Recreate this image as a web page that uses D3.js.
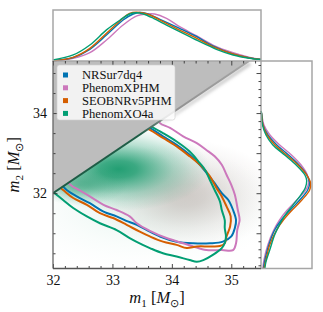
<!DOCTYPE html>
<html>
<head>
<meta charset="utf-8">
<script src="https://cdn.jsdelivr.net/npm/d3@7"></script>
<style>
  body { margin: 0; background: #fff; }
  svg { display: block; }
</style>
</head>
<body>
<svg></svg>
<script>
// corner plot of m1 / m2 for four waveform models: 90% contours + 1d marginals
const width = 323, height = 312;

const models = ["NRSur7dq4", "PhenomXPHM", "SEOBNRv5PHM", "PhenomXO4a"];
const modelColors = ["#0173b2", "#cc78bc", "#d55e00", "#029e73"];

// 90% contours, [m1, m2] (the part above m1 = m2 is hidden by the grey triangle)
const contourNRSur = [[33.58,33.66],[33.63,33.63],[33.85,33.42],[34.08,33.21],[34.30,32.96],[34.47,32.71],[34.61,32.46],[34.72,32.25],[34.84,32.00],[34.95,31.83],[35.03,31.58],[35.08,31.33],[35.06,31.13],[35.00,30.92],[34.86,30.79],[34.64,30.75],[34.36,30.75],[34.08,30.79],[33.80,30.92],[33.58,31.08],[33.41,31.21],[33.27,31.29],[33.07,31.42],[32.85,31.54],[32.62,31.75],[32.40,31.92],[32.23,32.08],[32.15,32.21]];
const contourXPHM = [[33.77,33.86],[33.80,33.75],[33.97,33.63],[34.19,33.42],[34.42,33.25],[34.58,33.08],[34.72,32.92],[34.84,32.71],[34.92,32.46],[35.00,32.21],[35.06,31.96],[35.11,31.58],[35.14,31.33],[35.10,31.08],[35.08,30.75],[35.03,30.58],[34.84,30.58],[34.58,30.58],[34.36,30.67],[34.19,30.75],[33.91,30.88],[33.63,31.06],[33.41,31.25],[33.29,31.42],[33.07,31.58],[32.85,31.71],[32.62,31.92],[32.45,32.07],[32.32,32.18],[32.22,32.31]];
const contourSEOB = [[33.56,33.63],[33.63,33.58],[33.85,33.38],[34.08,33.17],[34.30,32.92],[34.50,32.67],[34.64,32.42],[34.75,32.13],[34.84,31.92],[34.92,31.67],[34.99,31.42],[34.98,31.17],[34.92,30.92],[34.89,30.75],[34.81,30.68],[34.64,30.67],[34.42,30.67],[34.25,30.63],[34.08,30.71],[33.85,30.79],[33.63,30.92],[33.46,31.04],[33.24,31.21],[33.01,31.38],[32.79,31.50],[32.57,31.71],[32.34,31.88],[32.17,32.08],[32.08,32.18]];
const contourXO4a = [[33.63,33.68],[33.85,33.50],[34.08,33.29],[34.30,33.04],[34.47,32.75],[34.56,32.58],[34.64,32.33],[34.72,32.08],[34.81,31.79],[34.84,31.58],[34.89,31.33],[34.89,31.13],[34.91,30.92],[34.89,30.75],[34.84,30.63],[34.69,30.46],[34.53,30.33],[34.42,30.29],[34.30,30.33],[34.08,30.42],[33.85,30.50],[33.63,30.63],[33.51,30.71],[33.29,30.88],[33.07,31.08],[32.79,31.25],[32.57,31.42],[32.34,31.63],[32.17,31.83],[32.03,32.00],[31.98,32.05]];

// m1 marginals, [m1, relative density]
const m1NRSur = [[32.0,0.006],[32.34,0.072],[32.62,0.24],[32.90,0.535],[33.18,0.844],[33.35,0.968],[33.46,1.0],[33.57,0.982],[33.80,0.859],[34.13,0.673],[34.42,0.50],[34.69,0.309],[35.03,0.144],[35.31,0.062],[35.5,0.03]];
const m1XPHM = [[32.0,0.004],[32.34,0.056],[32.62,0.171],[32.90,0.432],[33.18,0.741],[33.41,0.927],[33.57,0.968],[33.71,0.968],[33.91,0.879],[34.13,0.706],[34.42,0.515],[34.69,0.329],[35.03,0.171],[35.31,0.076],[35.5,0.03]];
const m1SEOB = [[32.0,0.006],[32.34,0.076],[32.62,0.26],[32.90,0.57],[33.13,0.83],[33.29,0.982],[33.46,1.0],[33.63,0.947],[33.85,0.81],[34.13,0.638],[34.42,0.467],[34.69,0.294],[35.03,0.144],[35.31,0.062],[35.5,0.03]];
const m1XO4a = [[32.0,0.02],[32.34,0.124],[32.62,0.33],[32.90,0.64],[33.13,0.844],[33.29,0.968],[33.41,0.994],[33.52,0.968],[33.69,0.879],[33.91,0.741],[34.19,0.57],[34.47,0.397],[34.75,0.241],[35.03,0.124],[35.31,0.056],[35.5,0.03]];

// m2 marginals, [m2, relative density]
const m2NRSur = [[34.05,0],[34.0,0.01],[33.71,0.04],[33.46,0.144],[33.21,0.33],[32.96,0.577],[32.71,0.80],[32.46,0.967],[32.26,1.03],[32.08,0.99],[31.83,0.82],[31.58,0.62],[31.33,0.43],[31.08,0.29],[30.71,0.165],[30.33,0.082],[30.12,0.05]];
const m2XPHM = [[34.05,0],[34.0,0.01],[33.71,0.06],[33.46,0.185],[33.21,0.39],[32.96,0.64],[32.71,0.845],[32.46,0.98],[32.26,1.01],[32.08,0.95],[31.83,0.76],[31.58,0.556],[31.33,0.39],[31.08,0.27],[30.71,0.144],[30.33,0.062],[30.12,0.04]];
const m2SEOB = [[34.05,0],[34.0,0.01],[33.71,0.04],[33.46,0.124],[33.21,0.29],[32.96,0.535],[32.71,0.78],[32.46,0.967],[32.26,1.05],[32.08,1.03],[31.83,0.865],[31.58,0.66],[31.33,0.474],[31.08,0.33],[30.71,0.185],[30.33,0.103],[30.12,0.062]];
const m2XO4a = [[34.05,0],[34.0,0.01],[33.71,0.03],[33.46,0.103],[33.21,0.247],[32.96,0.494],[32.71,0.74],[32.46,0.927],[32.31,0.968],[32.13,0.937],[31.96,0.845],[31.71,0.68],[31.46,0.515],[31.21,0.39],[30.96,0.29],[30.58,0.185],[30.28,0.103],[30.12,0.082]];

// background density shading as a few gaussian blobs: [m1, m2, sigma m1, sigma m2, peak]
const densityBlobs = [
  [33.50, 31.65, 0.95, 0.62, 0.5],
  [34.25, 31.95, 0.62, 0.55, 0.5],
  [33.10, 32.60, 0.62, 0.42, 0.95],
  [32.45, 32.20, 0.32, 0.20, 0.55]
];
const blobColors = ["#d9eee6", "#ab9c97", "#189a6c", "#1c9468"];

const contours = [contourNRSur, contourXPHM, contourSEOB, contourXO4a];
const m1Marginals = [m1NRSur, m1XPHM, m1SEOB, m1XO4a];
const m2Marginals = [m2NRSur, m2XPHM, m2SEOB, m2XO4a];

const serif = "Liberation Serif, Times New Roman, serif";

const svg = d3.select("svg").attr("width", width).attr("height", height);

const plotLeft = 53, plotRight = 261, plotTop = 61, plotBottom = 268.5;
const margTop = 10, margRight = 312;

const x = d3.scaleLinear().domain([32, 35.5]).range([plotLeft, plotRight]);
const y = d3.scaleLinear().domain([30.12, 35.3]).range([plotBottom, plotTop]);
const yTop = d3.scaleLinear().domain([0, 1.05]).range([plotTop, margTop]);
const xRight = d3.scaleLinear().domain([0, 1.08]).range([plotRight, margRight]);

const defs = svg.append("defs");
defs.append("clipPath").attr("id", "plotClip")
  .append("rect").attr("x", plotLeft).attr("y", plotTop)
  .attr("width", plotRight - plotLeft).attr("height", plotBottom - plotTop);

const [m2lo, m2hi] = y.domain();
defs.append("clipPath").attr("id", "belowDiag")
  .append("polygon")
  .attr("points", [[32, m2lo], [32, 32], [m2hi, m2hi], [35.5, m2hi], [35.5, m2lo]]
    .map(p => [x(p[0]), y(p[1])].join(",")).join(" "));

// radial gradients shaped like a gaussian
blobColors.forEach((c, i) => {
  const g = defs.append("radialGradient").attr("id", "blob" + i);
  [0, 0.2, 0.4, 0.6, 0.8, 1].forEach(f => {
    g.append("stop").attr("offset", f).attr("stop-color", c)
      .attr("stop-opacity", f === 1 ? 0 : Math.exp(-Math.pow(2.5 * f, 2) / 2));
  });
});

const plot = svg.append("g").attr("clip-path", "url(#plotClip)");

// density shading
plot.append("g").attr("clip-path", "url(#belowDiag)")
  .selectAll("ellipse")
  .data(densityBlobs)
  .join("ellipse")
  .attr("cx", d => x(d[0]))
  .attr("cy", d => y(d[1]))
  .attr("rx", d => x(32 + 2.5 * d[2]) - x(32))
  .attr("ry", d => y(32) - y(32 + 2.5 * d[3]))
  .attr("fill", (d, i) => `url(#blob${i})`)
  .attr("opacity", d => d[4]);

// contours, drawn with the green one on top
const contourLine = d3.line()
  .x(d => x(d[0])).y(d => y(d[1]))
  .curve(d3.curveCatmullRom.alpha(0.5));

[0, 1, 2, 3].forEach(i => {
  plot.append("path")
    .attr("d", contourLine(contours[i]))
    .attr("fill", "none")
    .attr("stroke", modelColors[i])
    .attr("stroke-width", 2)
    .attr("stroke-linejoin", "round");
});

// grey excluded region m2 > m1
plot.append("polygon")
  .attr("points", [[32, 32], [32, m2hi], [m2hi, m2hi]].map(p => [x(p[0]), y(p[1])].join(",")).join(" "))
  .attr("fill", "#bdbdbd");

// diagonal edge: dark green where the density sits, grey further up
const diagGrad = defs.append("linearGradient").attr("id", "diagGrad")
  .attr("gradientUnits", "userSpaceOnUse")
  .attr("x1", x(32)).attr("y1", y(32)).attr("x2", x(m2hi)).attr("y2", y(m2hi));
[[0, "#1d5b45"], [0.45, "#1f5e47"], [0.58, "#8f8f8f"], [1, "#a5a5a5"]].forEach(s =>
  diagGrad.append("stop").attr("offset", s[0]).attr("stop-color", s[1]));

const shadowGrad = defs.append("linearGradient").attr("id", "shadowGrad")
  .attr("gradientUnits", "userSpaceOnUse")
  .attr("x1", x(32)).attr("y1", y(32)).attr("x2", x(m2hi)).attr("y2", y(m2hi));
[[0, 0], [0.5, 0], [0.65, 0.35], [1, 0.5]].forEach(s =>
  shadowGrad.append("stop").attr("offset", s[0]).attr("stop-color", "#9a9a9a").attr("stop-opacity", s[1]));

defs.append("filter").attr("id", "soft").attr("x", "-20%").attr("y", "-20%").attr("width", "140%").attr("height", "140%")
  .append("feGaussianBlur").attr("stdDeviation", 1.6);

plot.append("line")
  .attr("x1", x(32) + 1).attr("y1", y(32) + 2.5).attr("x2", x(m2hi) + 1).attr("y2", y(m2hi) + 2.5)
  .attr("stroke", "url(#shadowGrad)").attr("stroke-width", 4).attr("filter", "url(#soft)");
plot.append("line")
  .attr("x1", x(32)).attr("y1", y(32)).attr("x2", x(m2hi)).attr("y2", y(m2hi))
  .attr("stroke", "url(#diagGrad)").attr("stroke-width", 2);

// marginals
const topLine = d3.line().x(d => x(d[0])).y(d => yTop(d[1])).curve(d3.curveCatmullRom.alpha(0.5));
const rightLine = d3.line().x(d => xRight(d[1])).y(d => y(d[0])).curve(d3.curveCatmullRom.alpha(0.5));

const margTopG = svg.append("g");
const margRightG = svg.append("g");
[1, 0, 2, 3].forEach(i => {
  margTopG.append("path").attr("d", topLine(m1Marginals[i]))
    .attr("fill", "none").attr("stroke", modelColors[i]).attr("stroke-width", 1.4);
  margRightG.append("path").attr("d", rightLine(m2Marginals[i]))
    .attr("fill", "none").attr("stroke", modelColors[i]).attr("stroke-width", 1.4);
});

// marginal frames
svg.append("rect").attr("x", plotLeft).attr("y", margTop).attr("width", plotRight - plotLeft).attr("height", plotTop - margTop)
  .attr("fill", "none").attr("stroke", "#a6a6a6").attr("stroke-width", 1.5);
svg.append("rect").attr("x", plotRight).attr("y", plotTop).attr("width", margRight - plotRight).attr("height", plotBottom - plotTop)
  .attr("fill", "none").attr("stroke", "#a6a6a6").attr("stroke-width", 1.5);

// axes, ticks pointing inward
function styleAxis(g) {
  g.select(".domain").remove();
  g.selectAll(".tick line").attr("stroke", "#333").attr("stroke-width", 0.9);
  g.selectAll("text").attr("font-family", serif).attr("font-size", "14px").attr("fill", "#111");
}

const xMajor = [32, 33, 34, 35];
const xMinor = d3.range(32, 35.51, 0.2).filter(v => Math.abs(v - Math.round(v)) > 1e-6);
const yMajor = [32, 34];
const yMinor = d3.range(30.5, 35.3, 0.5).filter(v => !yMajor.includes(v));
const yRightMajor = [31, 32, 33, 34, 35];
const yRightMinor = d3.range(30.2, 35.3, 0.2).filter(v => Math.abs(v - Math.round(v)) > 1e-6);

svg.append("g").attr("transform", `translate(0,${plotBottom})`)
  .call(d3.axisBottom(x).tickValues(xMajor).tickFormat(d3.format("d")).tickSize(-4.5).tickPadding(7)).call(styleAxis);
svg.append("g").attr("transform", `translate(0,${plotBottom})`)
  .call(d3.axisBottom(x).tickValues(xMinor).tickFormat("").tickSize(-2.5)).call(styleAxis);
svg.append("g").attr("transform", `translate(0,${plotTop})`)
  .call(d3.axisTop(x).tickValues(xMajor).tickFormat("").tickSize(-4.5)).call(styleAxis);
svg.append("g").attr("transform", `translate(0,${plotTop})`)
  .call(d3.axisTop(x).tickValues(xMinor).tickFormat("").tickSize(-2.5)).call(styleAxis);

svg.append("g").attr("transform", `translate(${plotLeft},0)`)
  .call(d3.axisLeft(y).tickValues(yMajor).tickFormat(d3.format("d")).tickSize(-4.5).tickPadding(6)).call(styleAxis);
svg.append("g").attr("transform", `translate(${plotLeft},0)`)
  .call(d3.axisLeft(y).tickValues(yMinor).tickFormat("").tickSize(-2.5)).call(styleAxis);
svg.append("g").attr("transform", `translate(${plotRight},0)`)
  .call(d3.axisRight(y).tickValues(yRightMajor).tickFormat("").tickSize(-4.5)).call(styleAxis);
svg.append("g").attr("transform", `translate(${plotRight},0)`)
  .call(d3.axisRight(y).tickValues(yRightMinor).tickFormat("").tickSize(-2.5)).call(styleAxis);

// main spines
svg.append("line").attr("x1", plotLeft).attr("x2", plotLeft).attr("y1", plotTop).attr("y2", plotBottom)
  .attr("stroke", "#666").attr("stroke-width", 1.3);
svg.append("line").attr("x1", plotLeft).attr("x2", plotRight).attr("y1", plotBottom).attr("y2", plotBottom)
  .attr("stroke", "#555").attr("stroke-width", 1.3);

// legend
const legend = svg.append("g").attr("transform", "translate(57,65)");
legend.append("rect").attr("width", 118).attr("height", 55).attr("rx", 2.5)
  .attr("fill", "#fff").attr("fill-opacity", 0.8)
  .attr("stroke", "#d0d0d0").attr("stroke-opacity", 0.8).attr("stroke-width", 0.8);
models.forEach((m, i) => {
  const row = legend.append("g").attr("transform", `translate(0,${10 + i * 12.8})`);
  row.append("rect").attr("x", 6).attr("y", -2.5).attr("width", 5).attr("height", 5).attr("fill", modelColors[i]);
  row.append("text").attr("x", 25).attr("y", 0).attr("dy", "0.35em")
    .attr("font-family", serif).attr("font-size", "12.6px").attr("fill", "#111").text(m);
});

// axis labels with subscripts
function massLabel(t, sub) {
  t.append("tspan").attr("font-style", "italic").text("m");
  t.append("tspan").attr("font-size", "11px").attr("dy", 3.5).text(sub);
  t.append("tspan").attr("dy", -3.5).text(" [");
  t.append("tspan").attr("font-style", "italic").text("M");
  t.append("tspan").attr("font-size", "11px").attr("dy", 3.5).text("⊙");
  t.append("tspan").attr("dy", -3.5).text("]");
}
svg.append("text")
  .attr("x", (plotLeft + plotRight) / 2).attr("y", 303)
  .attr("text-anchor", "middle").attr("font-family", serif).attr("font-size", "16.5px").attr("fill", "#111")
  .call(massLabel, "1");
svg.append("text")
  .attr("transform", `translate(19,${(plotTop + plotBottom) / 2}) rotate(-90)`)
  .attr("text-anchor", "middle").attr("font-family", serif).attr("font-size", "16.5px").attr("fill", "#111")
  .call(massLabel, "2");
</script>
</body>
</html>
